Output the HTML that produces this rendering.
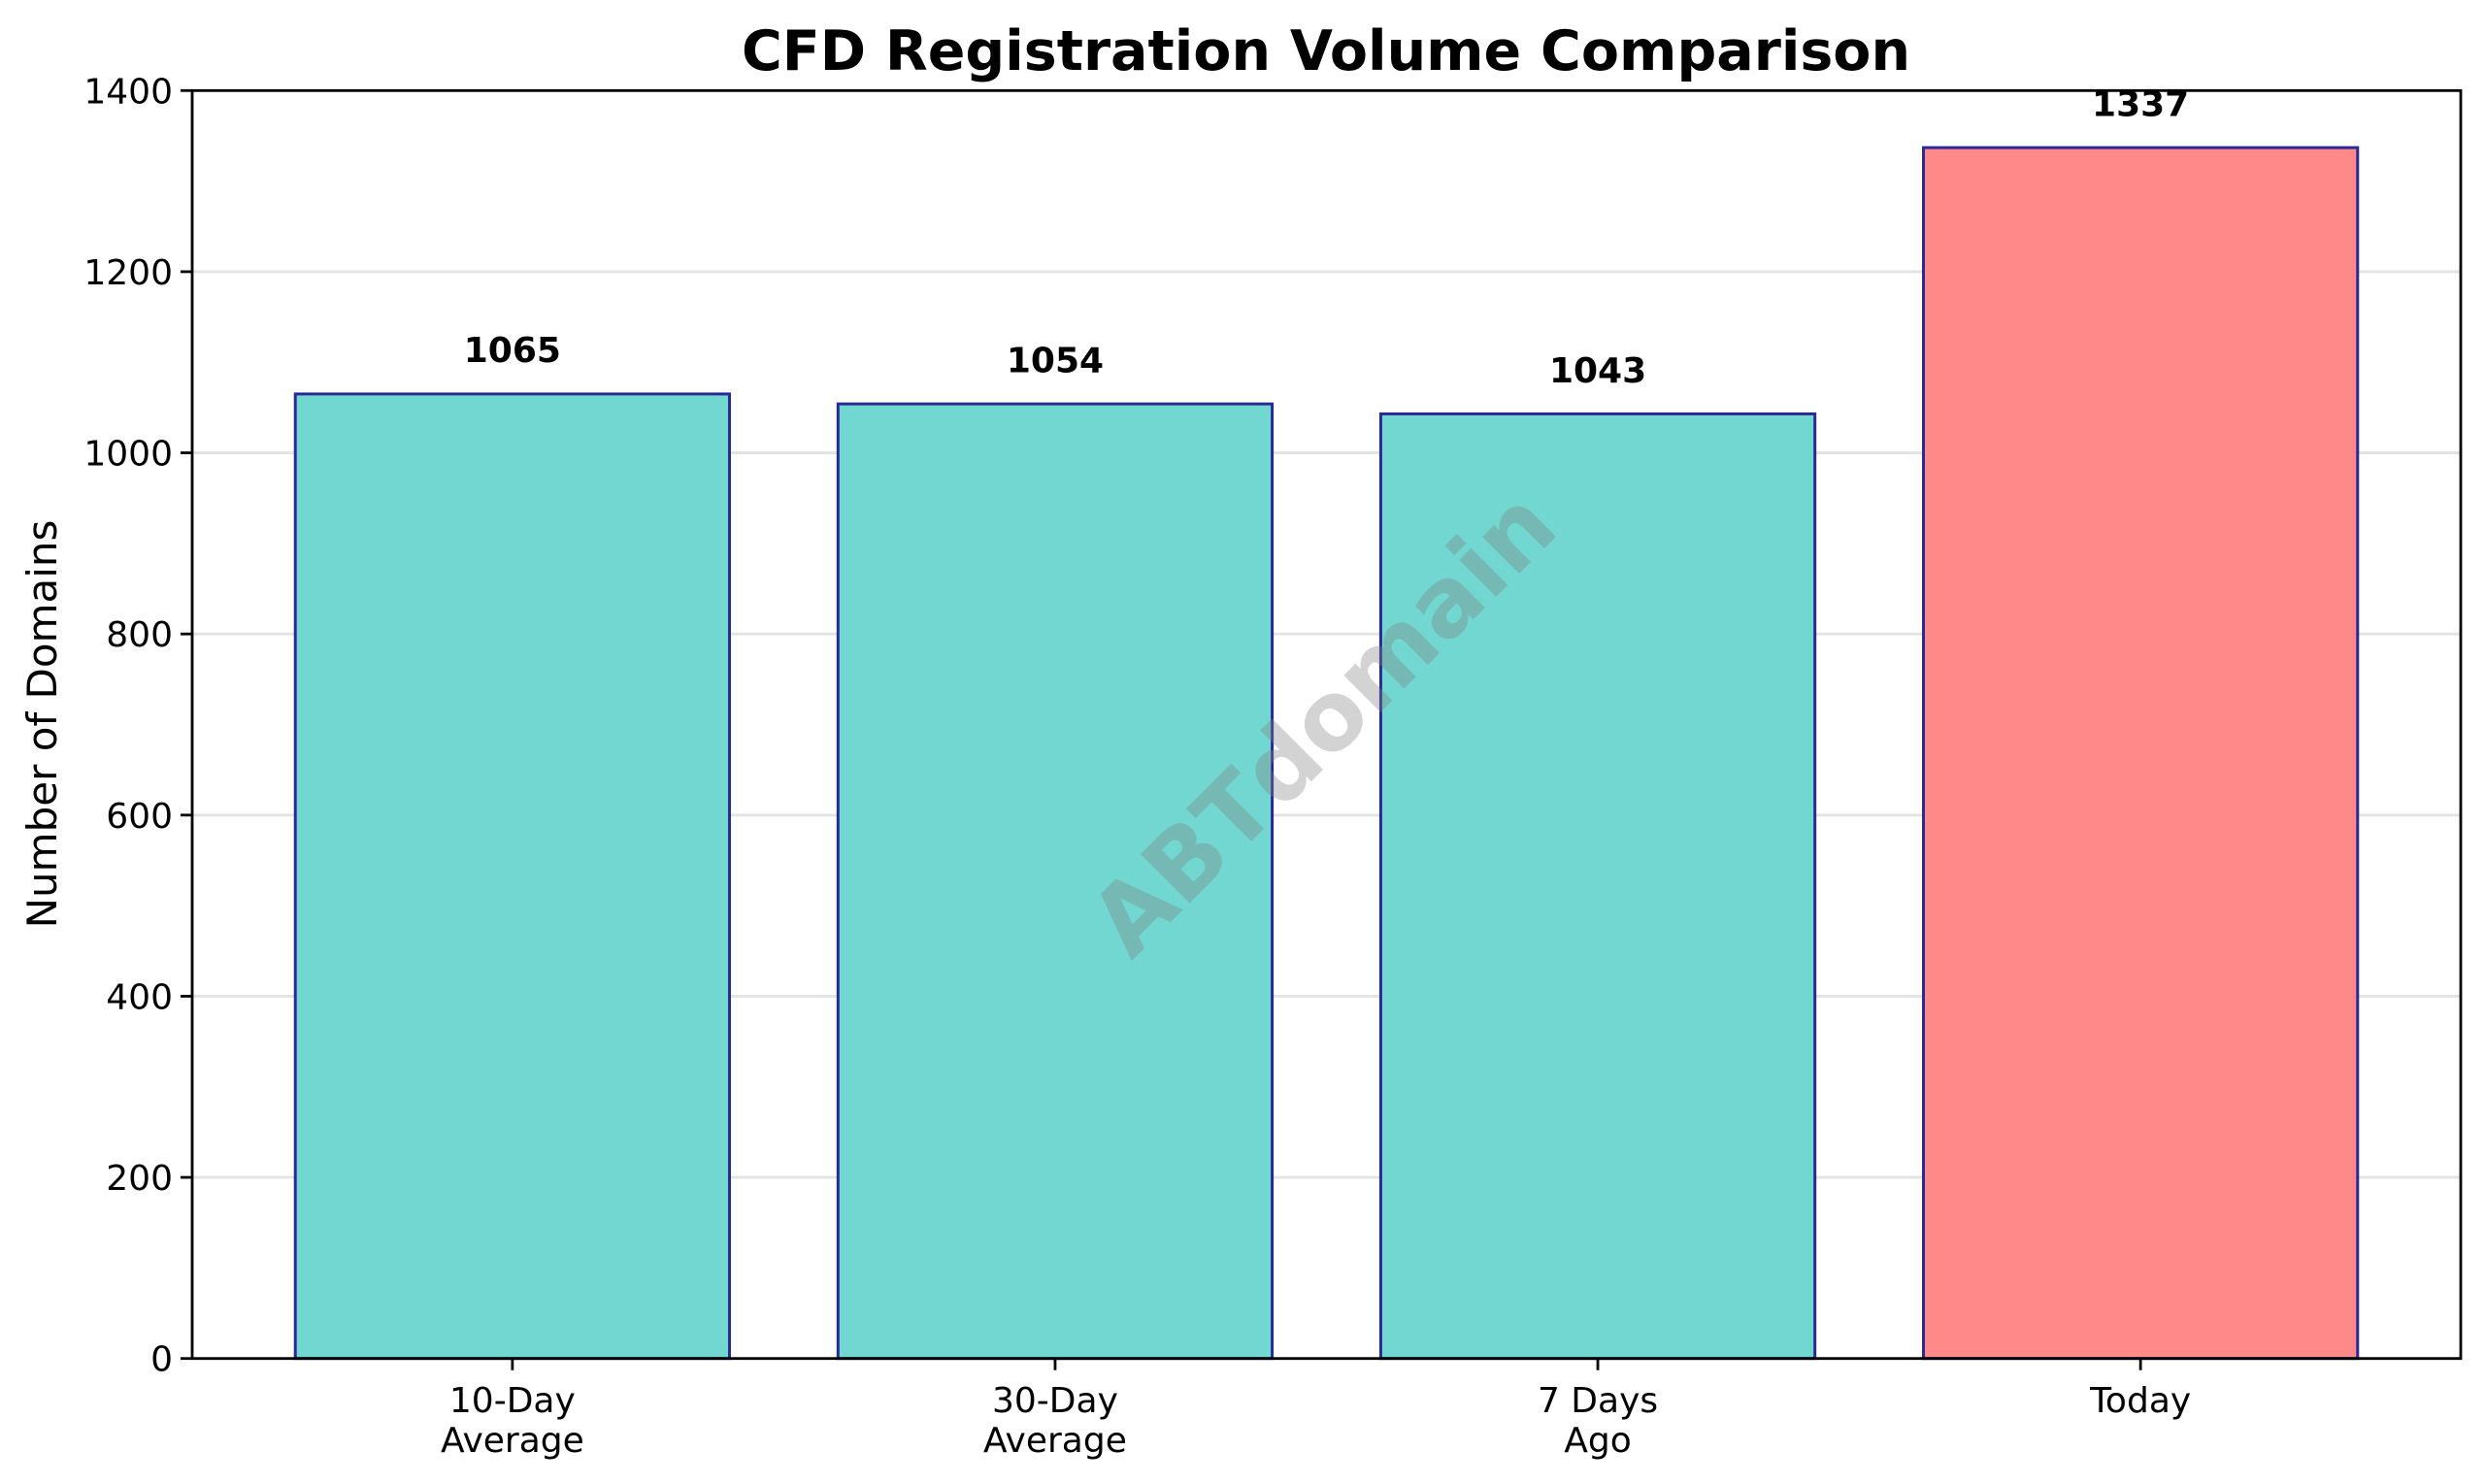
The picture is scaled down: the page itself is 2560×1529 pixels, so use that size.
<!DOCTYPE html>
<html><head><meta charset="utf-8"><style>
html,body{margin:0;padding:0;background:#fff;}
svg{display:block;font-family:"DejaVu Sans","Liberation Sans",sans-serif;}
</style></head><body>
<svg id="chart" width="2560" height="1529" viewBox="0 0 2560 1529" xmlns="http://www.w3.org/2000/svg">
<rect width="2560" height="1529" fill="#fff"/>
<text x="1366" y="72" text-anchor="middle" font-size="57" font-weight="bold">CFD Registration Volume Comparison</text>
<text transform="translate(58,746) rotate(-90)" text-anchor="middle" font-size="42">Number of Domains</text>
<g id="grid"></g>
<g id="bars"></g>
<text transform="translate(1368,750) rotate(-45)" text-anchor="middle" dominant-baseline="middle" font-size="98" font-weight="bold" fill="#808080" fill-opacity="0.35">ABTdomain</text>
<g id="axes"></g>
</svg>
<script>
const categories = [["10-Day","Average"],["30-Day","Average"],["7 Days","Ago"],["Today"]];
const values = [1065, 1054, 1043, 1337];
const yTicks = [0, 200, 400, 600, 800, 1000, 1200, 1400];
const colors = ["#71d7d0","#71d7d0","#71d7d0","#ff8989"];

const NS = "http://www.w3.org/2000/svg";
const L = 198, R = 2535, T = 93.3, B = 1399.7;
const yMax = 1400;
function y(v){ return B - v / yMax * (B - T); }
const xMin = -0.59, xMax = categories.length - 1 + 0.59;
function x(i){ return L + (i - xMin) / (xMax - xMin) * (R - L); }
const bw = 0.8 * (x(1) - x(0));
function mk(tag, attrs, parent){ const e = document.createElementNS(NS, tag); for (const k in attrs) e.setAttribute(k, attrs[k]); parent.appendChild(e); return e; }

const grid = document.getElementById('grid');
const axes = document.getElementById('axes');
const bars = document.getElementById('bars');

yTicks.forEach(t => {
  const g = mk('line', {x1:L, x2:R, y1:y(t), y2:y(t), stroke:'#e3e3e3', 'stroke-width':2.8}, grid);
  
  
  const tk = mk('line', {x1:L-12, x2:L, y1:y(t), y2:y(t), stroke:'#000', 'stroke-width':2.8}, axes);
  
  
  const lb = mk('text', {x:L-20, y:y(t)+13, 'text-anchor':'end', 'font-size':36}, axes);
  lb.textContent = t;
  
  
});

values.forEach((v, i) => {
  const cx = x(i);
  const r = mk('rect', {x:cx-bw/2, y:y(v), width:bw, height:y(0)-y(v), fill:colors[i], stroke:'#2a2a96', 'stroke-width':3}, bars);
  
  
  const vl = mk('text', {x:cx, y:y(v+35), 'text-anchor':'middle', 'font-size':36, 'font-weight':'bold'}, bars);
  vl.textContent = v;
  
  
  const tk = mk('line', {x1:cx, x2:cx, y1:B, y2:B+12, stroke:'#000', 'stroke-width':2.8}, axes);
  
  
  categories[i].forEach((line, j) => {
    const xl = mk('text', {x:cx, y:1455 + j*41, 'text-anchor':'middle', 'font-size':36}, axes);
    xl.textContent = line;
    
    
  });
});

const frame = mk('rect', {x:L, y:T, width:R-L, height:B-T, fill:'none', stroke:'#000', 'stroke-width':2.8}, axes);


</script>
</body></html>
